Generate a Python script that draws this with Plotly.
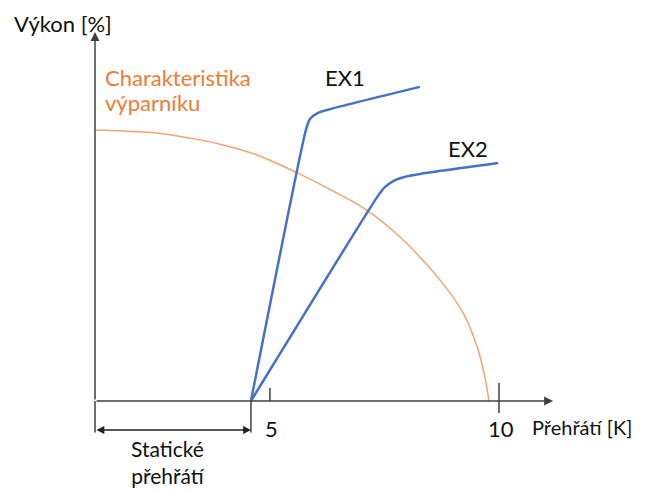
import plotly.graph_objects as go

# --- data (x in K-units of the sketch, y in % of power) ---
evap_x = [0.0, 0.69, 1.53, 2.35, 3.17, 4.01, 5.02, 5.94, 6.76, 7.55, 8.54, 9.11, 9.46, 9.65, 9.75]
evap_y = [100.0, 99.6, 98.9, 97.0, 94.5, 90.8, 84.1, 77.1, 70.1, 60.5, 44.6, 32.5, 19.9, 8.9, 0.0]

ex1_x = [3.86, 5.22, 5.32, 5.52, 5.82, 8.04]
ex1_y = [0.0, 100.0, 104.1, 106.3, 107.7, 115.9]

ex2_x = [3.86, 7.00, 7.18, 7.43, 7.75, 8.04, 9.98]
ex2_y = [0.0, 75.6, 79.0, 81.5, 83.0, 83.8, 87.8]

tick_positions = [4.33, 10.0]
tick_labels = ["5", "10"]
static_sh = 3.86

FONT = "Lato"
BLUE = "#4472C4"
ORANGE = "#ED7D31"
AX = "#404040"

fig = go.Figure()
fig.add_trace(go.Scatter(x=evap_x, y=evap_y, mode="lines",
                         line=dict(color="#F4A46E", width=1.5, shape="spline", smoothing=1.0),
                         hoverinfo="skip"))
fig.add_trace(go.Scatter(x=ex1_x, y=ex1_y, mode="lines",
                         line=dict(color=BLUE, width=2.5, shape="spline", smoothing=0.6),
                         hoverinfo="skip"))
fig.add_trace(go.Scatter(x=ex2_x, y=ex2_y, mode="lines",
                         line=dict(color=BLUE, width=2.5, shape="spline", smoothing=0.6),
                         hoverinfo="skip"))

ann = []
# axes with arrows
ann.append(dict(x=11.34, y=0, ax=0, ay=0, xref="x", yref="y", axref="x", ayref="y",
                showarrow=True, arrowhead=2, arrowsize=1.2, arrowwidth=1.5, arrowcolor=AX, text=""))
ann.append(dict(x=0, y=136.2, ax=0, ay=0, xref="x", yref="y", axref="x", ayref="y",
                showarrow=True, arrowhead=2, arrowsize=1.2, arrowwidth=1.5, arrowcolor=AX, text=""))
# static superheat double arrow
ann.append(dict(x=static_sh, y=-10.7, ax=0, ay=-10.7, xref="x", yref="y", axref="x", ayref="y",
                showarrow=True, arrowhead=2, startarrowhead=2, arrowside="end+start",
                arrowsize=1.2, arrowwidth=1.3, arrowcolor="#222222", text=""))

shapes = []
# ticks
shapes.append(dict(type="line", xref="x", yref="y", x0=tick_positions[0], x1=tick_positions[0],
                   y0=0, y1=4.8, line=dict(color=AX, width=1.5)))
shapes.append(dict(type="line", xref="x", yref="y", x0=tick_positions[1], x1=tick_positions[1],
                   y0=-4.4, y1=6.6, line=dict(color=AX, width=1.5)))
# bracket verticals
shapes.append(dict(type="line", xref="x", yref="y", x0=0, x1=0, y0=0, y1=-11.6,
                   line=dict(color="#222222", width=1.3)))
shapes.append(dict(type="line", xref="x", yref="y", x0=static_sh, x1=static_sh, y0=0, y1=-11.6,
                   line=dict(color="#222222", width=1.3)))

def txt(x, y, s, color="#111111", xanchor="center", size=22, yanchor="middle"):
    ann.append(dict(x=x, y=y, xref="x", yref="y", text=s, showarrow=False,
                    xanchor=xanchor, yanchor=yanchor,
                    font=dict(family=FONT, size=size, color=color)))

for tv, tl in zip(tick_positions, tick_labels):
    txt(tv + 0.05, -10.0, tl)
txt(10.76, -9.6, "Přehřátí [K]", xanchor="left", size=20)
txt(-2.05, 145.0, "Výkon [%]", xanchor="left", yanchor="top")
txt(0.2, 119.5, "Charakteristika", color=ORANGE, xanchor="left")
txt(0.2, 110.3, "výparníku", color=ORANGE, xanchor="left")
txt(6.19, 119.5, "EX1")
txt(9.23, 93.0, "EX2")
txt(1.81, -22.6, "Statické<br>přehřátí", size=21)

# the page body has an 8px margin: map figure pixels so the drawing lands where the reference has it
fig.update_layout(
    width=639, height=484,
    margin=dict(l=0, r=0, t=0, b=0),
    paper_bgcolor="white", plot_bgcolor="white",
    showlegend=False,
    xaxis=dict(range=[-2.153, 13.663], visible=False, fixedrange=True),
    yaxis=dict(range=[-33.58, 145.02], visible=False, fixedrange=True),
    annotations=ann, shapes=shapes,
)

fig.write_html("out.html")
